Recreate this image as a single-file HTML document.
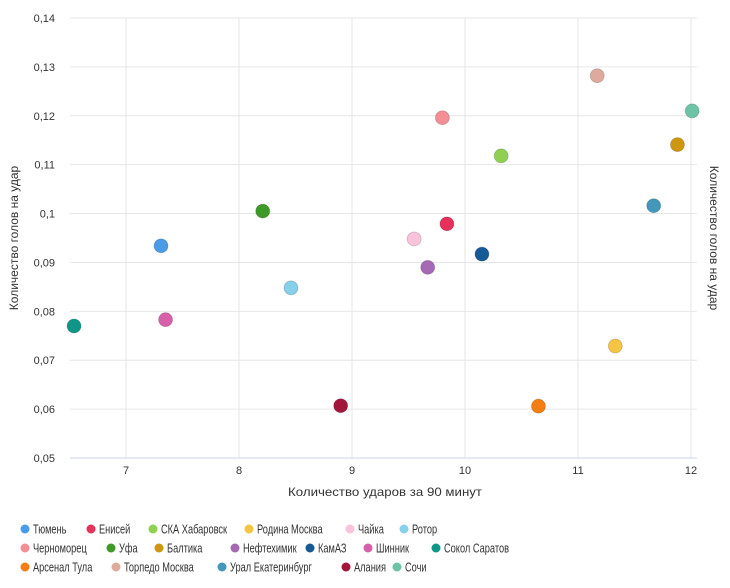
<!DOCTYPE html>
<html><head><meta charset="utf-8"><style>
body{margin:0;background:#fff;font-family:"Liberation Sans","DejaVu Sans",sans-serif;}
svg text{font-family:"Liberation Sans","DejaVu Sans",sans-serif;}
</style></head><body>
<svg id="c" width="730" height="583"></svg>
<script>
const teams=["Тюмень","Енисей","СКА Хабаровск","Родина Москва","Чайка","Ротор","Черноморец","Уфа","Балтика","Нефтехимик","КамАЗ","Шинник","Сокол Саратов","Арсенал Тула","Торпедо Москва","Урал Екатеринбург","Алания","Сочи"];
const shots=[7.31,9.84,10.32,11.33,9.55,8.46,9.80,8.21,11.88,9.67,10.15,7.35,6.54,10.65,11.17,11.67,8.90,12.01];
const goalsPerShot=[0.0934,0.0979,0.1118,0.0729,0.0948,0.0848,0.1196,0.1005,0.1141,0.0890,0.0917,0.0783,0.0770,0.0606,0.1282,0.1016,0.0607,0.1210];
const colors=["#4a9be8","#e8315a","#8fd052","#f5c542","#f9c3dc","#86d0ec","#f28e94","#3e9a26","#cf9610","#a56ab3","#155a96","#d95fa8","#0f9688","#f57e12","#ddaa9c","#4297ba","#a3163c","#6ec2a5"];
const xTicks=[7,8,9,10,11,12];
const yTicks=[0.05,0.06,0.07,0.08,0.09,0.1,0.11,0.12,0.13,0.14];
const yLabels=["0,05","0,06","0,07","0,08","0,09","0,1","0,11","0,12","0,13","0,14"];
const legendX=[[21,87,149,245,346,400],[21,107,155,231,306,364,432],[21,112,218,342,393]];
const legendY=[529,548,567];

const NS="http://www.w3.org/2000/svg";
const svg=document.getElementById('c');
const L=70,R=697,T=18,B=458;
const xs=v=>126+(v-7)*113;
const ys=v=>B-(v-0.05)/0.09*(B-T);
function mk(tag,attrs,parent){const e=document.createElementNS(NS,tag);for(const k in attrs)e.setAttribute(k,attrs[k]);(parent||svg).appendChild(e);return e;}
xTicks.forEach(t=>{
  const g=mk('line',{x1:xs(t),x2:xs(t),y1:T,y2:B,stroke:'#e6e6e6'});
  
  
  const tx=mk('text',{x:xs(t),y:B+16,'font-size':11,'text-anchor':'middle',fill:'#333'});
  tx.textContent=t;
  
  
});
yTicks.forEach((t,i)=>{
  const g=mk('line',{x1:L,x2:R,y1:ys(t),y2:ys(t),stroke:'#e6e6e6'});
  
  
  const tx=mk('text',{x:55,y:ys(t)+4,'font-size':11,'text-anchor':'end',fill:'#333'});
  tx.textContent=yLabels[i];
  
  
});
const ax=mk('line',{x1:L,x2:R,y1:B,y2:B,stroke:'#ccd6eb'});


const xt=mk('text',{x:385,y:496,'font-size':12,'text-anchor':'middle',fill:'#333',textLength:194,lengthAdjust:'spacingAndGlyphs'});
xt.textContent='Количество ударов за 90 минут';


const yt=mk('text',{transform:'translate(18,238) rotate(-90)','font-size':12,'text-anchor':'middle',fill:'#333'});
yt.textContent='Количество голов на удар';


const yt2=mk('text',{transform:'translate(710,238) rotate(90)','font-size':12,'text-anchor':'middle',fill:'#333'});
yt2.textContent='Количество голов на удар';


teams.forEach((n,i)=>{
  const c=mk('circle',{cx:xs(shots[i]),cy:ys(goalsPerShot[i]),r:7,fill:colors[i],stroke:'rgba(0,0,0,0.15)','stroke-width':1});
  
  
});
let k=0;
legendX.forEach((row,r)=>{row.forEach(x=>{
  const i=k++;
  const g=mk('g',{});
  
  
  mk('circle',{cx:x+4,cy:legendY[r],r:4.5,fill:colors[i]},g);
  const t=mk('text',{x:0,y:0,transform:'translate('+(x+12)+','+(legendY[r]+4.5)+') scale(0.74,1)','font-size':12.5,fill:'#333'},g);
  t.textContent=teams[i];
});});
</script>
</body></html>
